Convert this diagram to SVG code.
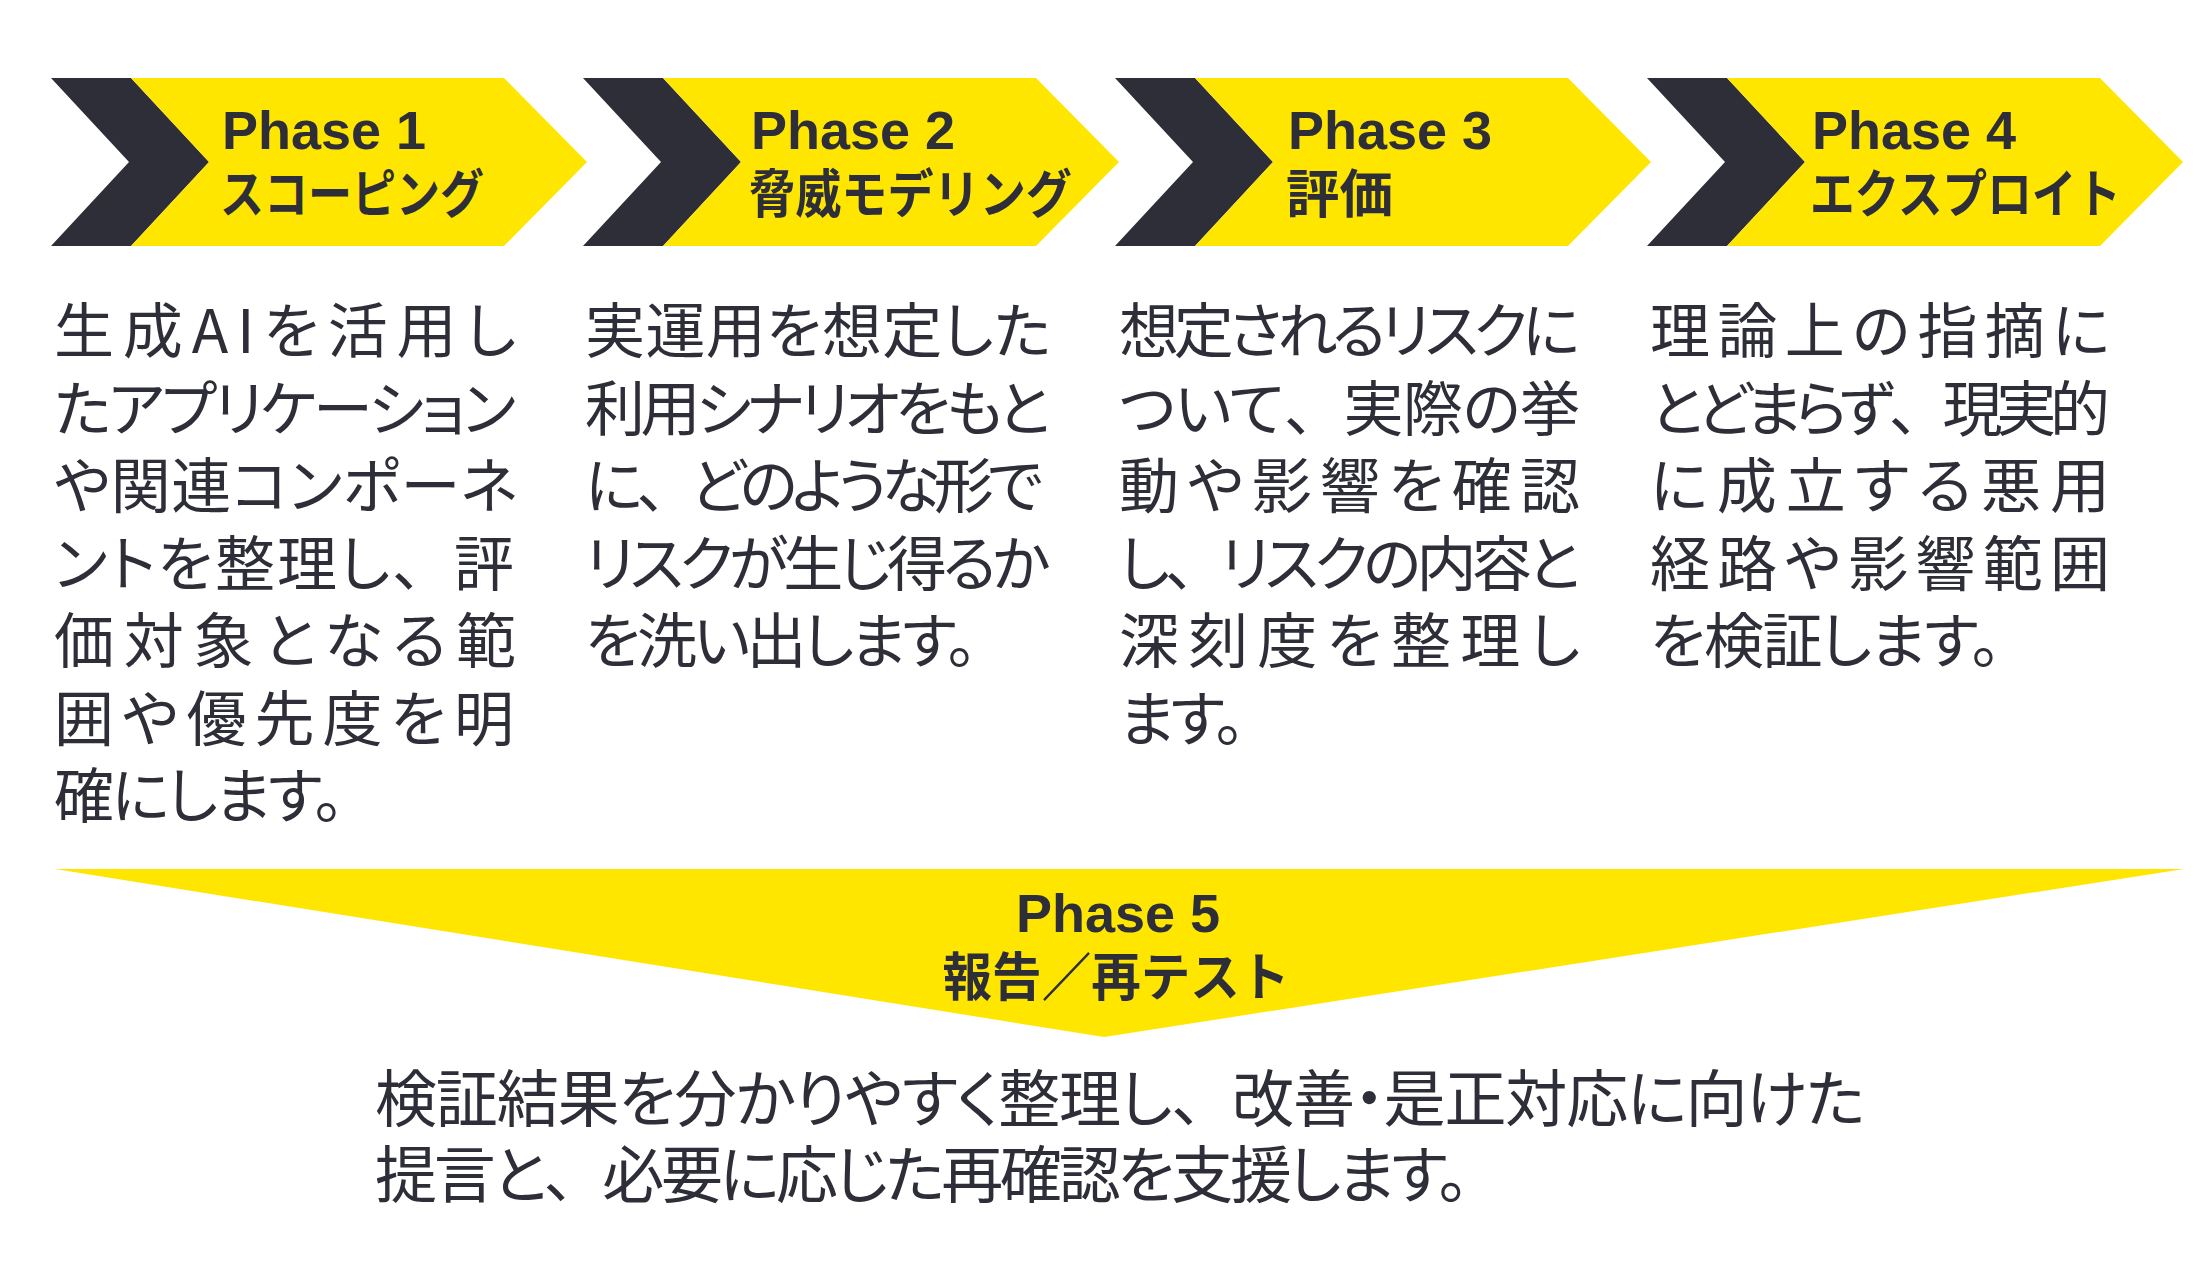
<svg xmlns="http://www.w3.org/2000/svg" width="2200" height="1280" viewBox="0 0 2200 1280">
<style>
.bg{fill:#ffffff}
.yl{fill:#FFE600}
.dk{fill:#2E2E38}
.ph{font-family:"Liberation Sans","Noto Sans CJK JP",sans-serif;font-weight:700;font-size:54px;fill:#2E2E38}
.tt{font-family:"Noto Sans CJK JP","Noto Sans CJK SC",sans-serif;font-weight:700;font-size:52px;fill:#2E2E38}
.bd{font-family:"Noto Sans CJK JP","Noto Sans CJK SC",sans-serif;font-weight:400;font-size:60px;fill:#2E2E38;font-feature-settings:"palt"}
.bt{font-family:"Noto Sans CJK JP","Noto Sans CJK SC",sans-serif;font-weight:400;font-size:62px;fill:#2E2E38;font-feature-settings:"palt"}
.fw{font-feature-settings:normal}
</style>
<defs>
<g id="chev">
<polygon class="dk" points="0,78 80,78 158,162 80,246 0,246 78,162"/>
<polygon class="yl" points="80,78 453,78 536,162 453,246 80,246 158,162"/>
</g>
</defs>
<rect class="bg" x="0" y="0" width="2200" height="1280"/>
<g id="connectors"></g>

<g id="phase1">
<use href="#chev" x="51" y="0"/>
<text class="ph" x="222" y="149">Phase 1</text>
<text class="tt" x="220" y="213" textLength="264" lengthAdjust="spacingAndGlyphs">スコーピング</text>
<g class="bd">
<text x="54" y="353" textLength="462">生成AIを活用し</text>
<text x="54" y="430.5" textLength="462">たアプリケーション</text>
<text x="54" y="508" textLength="464">や関連コンポーネ</text>
<text x="54" y="585.5" textLength="460">ントを整理し<tspan class="fw">、</tspan>評</text>
<text x="54" y="663" textLength="462">価対象となる範</text>
<text x="54" y="740.5" textLength="460">囲や優先度を明</text>
<text x="54" y="818" textLength="290">確にします。</text>
</g>
</g>

<g id="phase2">
<use href="#chev" x="583" y="0"/>
<text class="ph" x="751" y="149">Phase 2</text>
<text class="tt" x="749" y="213" textLength="323" lengthAdjust="spacingAndGlyphs">脅威モデリング</text>
<g class="bd">
<text x="585" y="353" textLength="466">実運用を想定した</text>
<text x="585" y="430.5" textLength="465">利用シナリオをもと</text>
<text x="585" y="508" textLength="458">に<tspan class="fw">、</tspan>どのような形で</text>
<text x="585" y="585.5" textLength="465">リスクが生じ得るか</text>
<text x="585" y="663" textLength="392">を洗い出します。</text>
</g>
</g>

<g id="phase3">
<use href="#chev" x="1115" y="0"/>
<text class="ph" x="1288" y="149">Phase 3</text>
<text class="tt" x="1286" y="213" textLength="107" lengthAdjust="spacingAndGlyphs">評価</text>
<g class="bd">
<text x="1119" y="353" textLength="461">想定されるリスクに</text>
<text x="1119" y="430.5" textLength="461">ついて<tspan class="fw">、</tspan>実際の挙</text>
<text x="1119" y="508" textLength="461">動や影響を確認</text>
<text x="1119" y="585.5" textLength="461">し<tspan class="fw">、</tspan>リスクの内容と</text>
<text x="1119" y="663" textLength="461">深刻度を整理し</text>
<text x="1119" y="740.5" textLength="126">ます。</text>
</g>
</g>

<g id="phase4">
<use href="#chev" x="1647" y="0"/>
<text class="ph" x="1812" y="149">Phase 4</text>
<text class="tt" x="1810" y="213" textLength="311" lengthAdjust="spacingAndGlyphs">エクスプロイト</text>
<g class="bd">
<text x="1650" y="353" textLength="460">理論上の指摘に</text>
<text x="1650" y="430.5" textLength="460">とどまらず<tspan class="fw">、</tspan>現実的</text>
<text x="1650" y="508" textLength="460">に成立する悪用</text>
<text x="1650" y="585.5" textLength="460">経路や影響範囲</text>
<text x="1650" y="663" textLength="351">を検証します。</text>
</g>
</g>

<g id="phase5">
<polygon class="yl" points="55,869 2184,869 1104,1037"/>
<text class="ph" x="1118" y="932" text-anchor="middle">Phase 5</text>
<text class="tt" x="1116" y="996" text-anchor="middle" textLength="347" lengthAdjust="spacingAndGlyphs">報告／再テスト</text>
<g class="bt">
<text x="375" y="1122" textLength="1490">検証結果を分かりやすく整理し<tspan class="fw">、</tspan>改善・是正対応に向けた</text>
<text x="375" y="1198" textLength="1094">提言と<tspan class="fw">、</tspan>必要に応じた再確認を支援します。</text>
</g>
</g>
</svg>
